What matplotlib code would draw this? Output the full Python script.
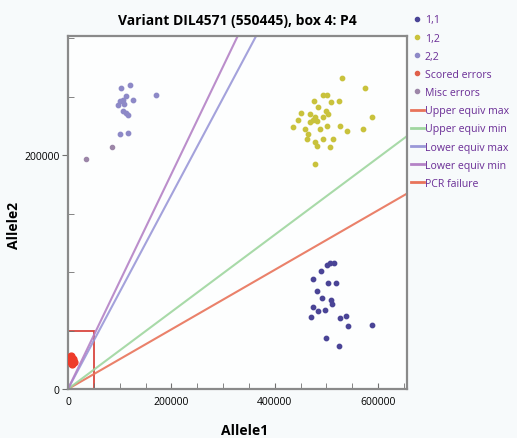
import numpy as np
import matplotlib.pyplot as plt
from matplotlib.patches import Rectangle
from matplotlib.lines import Line2D
from matplotlib.ticker import MultipleLocator

plt.rcParams['font.family'] = ['Open Sans', 'DejaVu Sans']

# genotype clusters (Allele1, Allele2)
g11_x = [500400, 506800, 515100, 488700, 473200, 503500, 517900, 481000, 490700, 508700, 510100,
         474400, 484100, 497100, 469900, 526200, 537300, 541200, 587700, 499000, 524300]
g11_y = [106200, 107400, 107400, 100600, 94000, 90600, 90600, 84000, 77500, 76100, 73000,
         69800, 67000, 67500, 61300, 60700, 62600, 54100, 55000, 43600, 37000]

g12_x = [530700, 574700, 493800, 500400, 508100, 524800, 475700, 484100, 499000, 468000, 477700,
         473200, 481000, 449900, 445200, 493800, 503500, 500400, 487400, 458200, 464600, 461500,
         477700, 493800, 513200, 506800, 481000, 526200, 539200, 571400, 587700, 435500, 477700, 468000]
g12_y = [266100, 257300, 251900, 251500, 245300, 246800, 246800, 241000, 238200, 235300, 233100,
         230200, 229700, 235900, 230200, 232500, 235300, 225400, 222500, 222500, 218200, 213900,
         211100, 213900, 213900, 206800, 208300, 225400, 221100, 222500, 232500, 223900, 192600, 228200]

g22_x = [103500, 119000, 111300, 125600, 101500, 106200, 96500, 108200, 106800, 111300, 115900,
         101500, 116500, 170300]
g22_y = [257300, 260400, 251000, 247600, 246200, 247300, 243300, 243800, 238200, 235900, 234800,
         218200, 219100, 251900]

scored_x = [5800, 9700, 3900, 11650, 7800]
scored_y = [28200, 25600, 23900, 23100, 21400]

misc_x = [85400, 35000]
misc_y = [206800, 196800]

# equivalence line slopes (Allele2 / Allele1)
upper_max_slope = 0.255
upper_min_slope = 0.33
lower_max_slope = 0.83
lower_min_slope = 0.92
pcr_limit = 50000

x_max, y_max = 656000, 302000

fig = plt.figure(figsize=(5.17, 4.39), dpi=100, facecolor='#f7fafb')
ax = fig.add_axes([0.1315, 0.1116, 0.656, 0.804], facecolor='#fdfefe')

xs = np.array([0, x_max * 1.5])
ax.plot(xs, upper_max_slope * xs, color='#e8735a', lw=1.5, alpha=0.9)
ax.plot(xs, upper_min_slope * xs, color='#9fd69f', lw=1.5, alpha=0.9)
ax.plot(xs, lower_max_slope * xs, color='#9a98d8', lw=1.5, alpha=0.9)
ax.plot(xs, lower_min_slope * xs, color='#b482c6', lw=1.5, alpha=0.9)
ax.add_patch(Rectangle((0, 0), pcr_limit, pcr_limit, fill=False, ec='#d9473f', lw=1.3))

c11, c12, c22 = '#4a4496', '#c9c23c', '#8d89c7'
c_sc, c_misc = '#ee3b2a', '#9c86a8'
ax.scatter(g11_x, g11_y, s=10, color=c11, zorder=3)
ax.scatter(g12_x, g12_y, s=10, color=c12, zorder=3)
ax.scatter(g22_x, g22_y, s=10, color=c22, zorder=3)
ax.scatter(scored_x, scored_y, s=24, color=c_sc, zorder=3)
ax.scatter(misc_x, misc_y, s=9, color=c_misc, zorder=3)

ax.set_xlim(0, x_max)
ax.set_ylim(0, y_max)
ax.xaxis.set_major_locator(MultipleLocator(200000))
ax.yaxis.set_major_locator(MultipleLocator(200000))
ax.xaxis.set_minor_locator(MultipleLocator(50000))
ax.yaxis.set_minor_locator(MultipleLocator(50000))
ax.tick_params(which='both', labelsize=7.5, color='#707070', length=4)
ax.tick_params(axis='x', which='both', direction='in', pad=5)
ax.tick_params(axis='y', which='major', direction='out', pad=2)
ax.tick_params(axis='y', which='minor', direction='in')
for sp in ax.spines.values():
    sp.set_color('#8a8a8a')
    sp.set_linewidth(1.6)

ax.set_title('Variant DIL4571 (550445), box 4: P4', fontsize=10, fontweight='bold', pad=9)
ax.set_xlabel('Allele1', fontsize=10, fontweight='bold')
ax.set_ylabel('Allele2', fontsize=10, fontweight='bold')
ax.xaxis.set_label_coords(0.52, -0.095)
ax.yaxis.set_label_coords(-0.14, 0.467)

handles = [
    Line2D([], [], ls='', marker='o', ms=3, color=c11),
    Line2D([], [], ls='', marker='o', ms=3, color=c12),
    Line2D([], [], ls='', marker='o', ms=3, color=c22),
    Line2D([], [], ls='', marker='o', ms=3, color='#e0604a'),
    Line2D([], [], ls='', marker='o', ms=3, color=c_misc),
    Line2D([], [], color='#e8735a', lw=2),
    Line2D([], [], color='#9fd69f', lw=2),
    Line2D([], [], color='#9a98d8', lw=2),
    Line2D([], [], color='#b482c6', lw=2),
    Line2D([], [], color='#e8735a', lw=2),
]
labels = ['1,1', '1,2', '2,2', 'Scored errors', 'Misc errors', 'Upper equiv max',
          'Upper equiv min', 'Lower equiv max', 'Lower equiv min', 'PCR failure']
leg = fig.legend(handles, labels, loc='upper left', bbox_to_anchor=(0.795, 0.965),
                 frameon=False, fontsize=7.6, handlelength=1.2, handletextpad=0.1,
                 labelspacing=0.68, borderaxespad=0, borderpad=0)
for t in leg.get_texts():
    t.set_color('#6a2d96')

fig.savefig('out.png', dpi=100, facecolor=fig.get_facecolor())
